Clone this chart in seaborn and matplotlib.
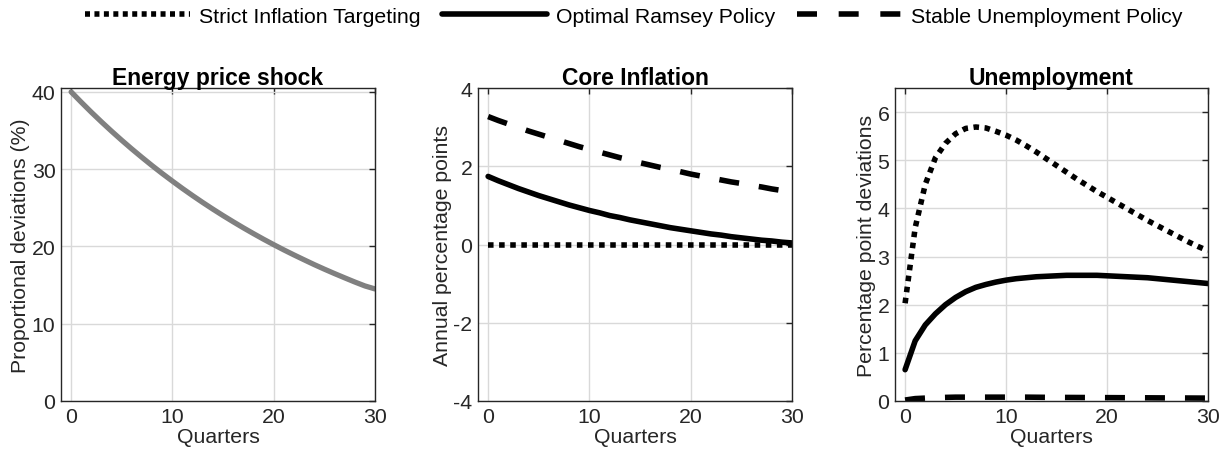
import numpy as np
import pandas as pd
import matplotlib
matplotlib.use("Agg")
import matplotlib.pyplot as plt
import seaborn as sns

quarters = list(range(31))

energy_shock = [40.0, 38.66, 37.36, 36.11, 34.90, 33.73, 32.60, 31.51, 30.45, 29.43,
                28.45, 27.49, 26.57, 25.68, 24.82, 23.99, 23.19, 22.41, 21.66, 20.93,
                20.23, 19.55, 18.90, 18.27, 17.65, 17.06, 16.49, 15.94, 15.40, 14.89, 14.50]

core_strict = [0.0] * 31
core_ramsey = [1.74, 1.63, 1.53, 1.43, 1.34, 1.25, 1.17, 1.09, 1.01, 0.94,
               0.87, 0.81, 0.74, 0.69, 0.63, 0.58, 0.53, 0.48, 0.43, 0.39,
               0.35, 0.31, 0.27, 0.24, 0.20, 0.17, 0.14, 0.11, 0.09, 0.06, 0.04]
core_stable = [3.27, 3.17, 3.08, 2.99, 2.90, 2.82, 2.74, 2.66, 2.58, 2.50,
               2.43, 2.36, 2.29, 2.22, 2.16, 2.09, 2.03, 1.97, 1.92, 1.86,
               1.80, 1.75, 1.70, 1.65, 1.60, 1.56, 1.51, 1.47, 1.42, 1.38, 1.34]

unemp_strict = [2.03, 3.60, 4.50, 5.05, 5.35, 5.55, 5.66, 5.69, 5.67, 5.60,
                5.52, 5.42, 5.30, 5.17, 5.03, 4.89, 4.75, 4.61, 4.48, 4.35,
                4.23, 4.11, 3.99, 3.87, 3.75, 3.64, 3.53, 3.42, 3.31, 3.21, 3.12]
unemp_ramsey = [0.65, 1.25, 1.58, 1.81, 2.00, 2.15, 2.27, 2.36, 2.42, 2.47,
                2.51, 2.54, 2.56, 2.58, 2.59, 2.60, 2.61, 2.61, 2.61, 2.61,
                2.60, 2.59, 2.58, 2.57, 2.56, 2.54, 2.52, 2.50, 2.48, 2.46, 2.44]
unemp_stable = [0.02, 0.05, 0.06, 0.07, 0.075, 0.08, 0.08, 0.08, 0.08, 0.08,
                0.08, 0.08, 0.08, 0.078, 0.076, 0.075, 0.074, 0.073, 0.072, 0.071,
                0.07, 0.069, 0.068, 0.067, 0.066, 0.065, 0.064, 0.063, 0.062, 0.061, 0.06]

series_names = ["Strict Inflation Targeting", "Optimal Ramsey Policy", "Stable Unemployment Policy"]
titles = ["Energy price shock", "Core Inflation", "Unemployment"]
ylabels = ["Proportional deviations (%)", "Annual percentage points", "Percentage point deviations"]
xlabel = "Quarters"

sns.set_theme(style="white")
plt.rcParams['font.family'] = ['Liberation Sans', 'DejaVu Sans']
plt.rcParams['axes.unicode_minus'] = False

txt = "#262626"
fig = plt.figure(figsize=(12.28, 4.64), dpi=100)
W, H = 1228, 464
def ax_at(l, t, w, h):
    return fig.add_axes([l / W, (H - t - h) / H, w / W, h / H])

axes = [ax_at(61, 89, 314, 313), ax_at(478, 89, 314, 313), ax_at(895, 89, 313, 313)]

styles = {
    series_names[0]: (0, (1, 1)),
    series_names[1]: "-",
    series_names[2]: (0, (3.6, 3.6)),
}

def style_axis(ax, ylim, yticks):
    ax.set_xlim(-1, 30)
    ax.set_ylim(*ylim)
    ax.set_xticks([0, 10, 20, 30])
    ax.set_yticks(yticks)
    ax.grid(True, color="#d9d9d9", linewidth=1.0)
    ax.set_axisbelow(True)
    ax.tick_params(direction="in", top=True, right=True, length=4, width=1,
                   labelsize=15.3, colors=txt, labelcolor=txt, pad=4)
    for s in ax.spines.values():
        s.set_color("#262626")
        s.set_linewidth(1.0)
        s.set_visible(True)

# Panel 1
ax = axes[0]
sns.lineplot(x=quarters, y=energy_shock, ax=ax, color="#808080", linewidth=3.8)
style_axis(ax, (0, 40.5), [0, 10, 20, 30, 40])

# Panel 2
ax = axes[1]
core_df = pd.DataFrame({"q": quarters * 3,
                        "v": core_strict + core_ramsey + core_stable,
                        "s": sum([[n] * 31 for n in series_names], [])})
for name in [series_names[1], series_names[2], series_names[0]]:
    sub = core_df[core_df.s == name]
    sns.lineplot(data=sub, x="q", y="v", ax=ax, color="black", linewidth=4.0)
    ln = ax.lines[-1]
    ln.set_linestyle(styles[name])
    ln.set_dash_capstyle("butt")
style_axis(ax, (-4, 4), [-4, -2, 0, 2, 4])

# Panel 3
ax = axes[2]
un_df = pd.DataFrame({"q": quarters * 3,
                      "v": unemp_strict + unemp_ramsey + unemp_stable,
                      "s": sum([[n] * 31 for n in series_names], [])})
for name in series_names:
    sub = un_df[un_df.s == name]
    sns.lineplot(data=sub, x="q", y="v", ax=ax, color="black", linewidth=4.0)
    ln = ax.lines[-1]
    ln.set_linestyle(styles[name])
    ln.set_dash_capstyle("butt")
style_axis(ax, (0, 6.5), [0, 1, 2, 3, 4, 5, 6])

for ax, t, yl in zip(axes, titles, ylabels):
    ax.set_title(t, fontsize=16.5, fontweight="bold", color="black", pad=3)
    ax.set_xlabel(xlabel, fontsize=15.3, color=txt, labelpad=1)
    ax.set_ylabel(yl, fontsize=15.3, color=txt, labelpad=1)

from matplotlib.lines import Line2D
lh = [Line2D([], [], color="black", lw=4, linestyle=(0, (0.9, 0.8)), dash_capstyle="butt"),
      Line2D([], [], color="black", lw=4, linestyle="-"),
      Line2D([], [], color="black", lw=4, linestyle=(0, (3.6, 3.9)), dash_capstyle="butt")]
fig.legend(lh, series_names, loc="center", bbox_to_anchor=(0.516, 0.963), ncol=3,
           frameon=False, fontsize=15.3, handlelength=4.95, handletextpad=0.42,
           columnspacing=1.0, labelcolor="black")

fig.savefig("out.png", dpi=100)
